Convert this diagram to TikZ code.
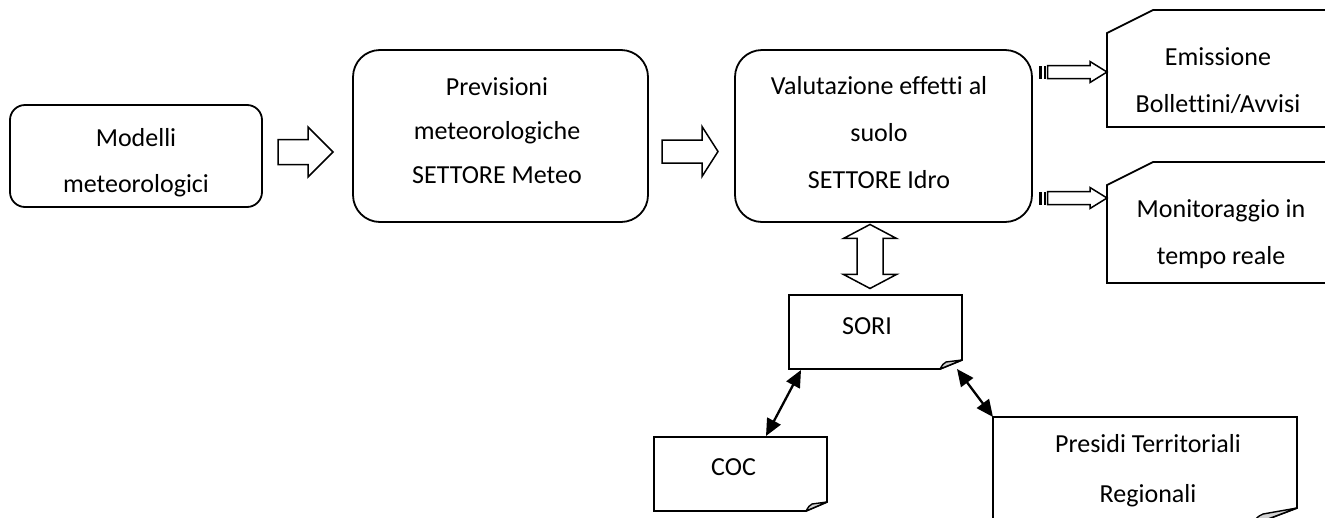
\documentclass[tikz,border=0pt]{standalone}
\usepackage{fontspec}
\setmainfont{Carlito}[Ligatures=NoCommon]
\usetikzlibrary{calc,arrows.meta}
\begin{document}
\begin{tikzpicture}[x=1pt,y=-1pt,
  rbox/.style={draw, line width=1.8pt, rounded corners=#1, inner sep=0pt},
  ghost/.style={inner sep=0pt, outer sep=0pt},
  outl/.style={draw, line width=1.8pt, line join=miter},
  txt/.style={align=center, inner sep=0pt, font=\fontsize{26}{#1}\selectfont},
  blk/.style={draw, fill=white, line width=1.5pt, line join=miter},
  stripe/.style={fill=black},
  fold/.style={draw, fill=gray!35, line width=1.4pt, line join=round},
  link/.style={line width=2.3pt, {Triangle[length=17pt,width=15pt]}-{Triangle[length=17pt,width=15pt]}}
]
\useasboundingbox (0,0) rectangle (1325,517);
\clip (0,0) rectangle (1325,517);

% rounded boxes
\node[rbox=15pt, minimum width=252pt, minimum height=102pt] (mod) at (136,156) {};
\node[txt=46] (modt) at (136,163) {Modelli\\meteorologici};

\node[rbox=27pt, minimum width=295pt, minimum height=172pt] (prev) at (500.5,136) {};
\node[txt=44] (prevt) at (497,131) {Previsioni\\meteorologiche\\SETTORE Meteo};

\node[rbox=27pt, minimum width=297pt, minimum height=172pt] (val) at (883.5,136) {};
\node[txt=47] (valt) at (879,133) {Valutazione effetti al\\suolo\\SETTORE Idro};

% cut-corner boxes
\node[ghost, minimum width=223pt, minimum height=117pt] (emi) at (1218.5,68.5) {};
\draw[outl] (emi.south west) -- ($(emi.north west)+(0,23)$) -- ($(emi.north west)+(46,0)$)
  -- (emi.north east) -- (emi.south east) -- cycle;
\node[txt=47] (emit) at (1218,81) {Emissione\\Bollettini/Avvisi};

\node[ghost, minimum width=223pt, minimum height=121pt] (mon) at (1218.5,222.5) {};
\draw[outl] (mon.south west) -- ($(mon.north west)+(0,23)$) -- ($(mon.north west)+(46,0)$)
  -- (mon.north east) -- (mon.south east) -- cycle;
\node[txt=47] (mont) at (1221,234) {Monitoraggio in\\tempo reale};

% folded-corner boxes
\node[ghost, minimum width=173pt, minimum height=74pt] (sori) at (875.5,332) {};
\draw[outl] (sori.north west) -- (sori.north east) -- ($(sori.south east)+(0,-9)$)
  -- ($(sori.south east)+(-22,0)$) -- (sori.south west) -- cycle;
\draw[fold] ($(sori.south east)+(-22,0)$) .. controls ($(sori.south east)+(-19,-5)$) .. ($(sori.south east)+(-16,-7)$)
  -- ($(sori.south east)+(0,-9)$) -- cycle;
\node[txt=30] (sorit) at (867,326.5) {SORI};

\node[ghost, minimum width=173pt, minimum height=74pt] (coc) at (740.5,474) {};
\draw[outl] (coc.north west) -- (coc.north east) -- ($(coc.south east)+(0,-9)$)
  -- ($(coc.south east)+(-21,0)$) -- (coc.south west) -- cycle;
\draw[fold] ($(coc.south east)+(-21,0)$) .. controls ($(coc.south east)+(-18,-5)$) .. ($(coc.south east)+(-15,-7)$)
  -- ($(coc.south east)+(0,-9)$) -- cycle;
\node[txt=30] (coct) at (733.5,467.5) {COC};

\node[ghost, minimum width=304pt, minimum height=108pt] (pre) at (1145,471) {};
\draw[outl] (pre.north west) -- (pre.north east) -- ($(pre.south east)+(0,-17)$)
  -- ($(pre.south east)+(-45,0)$) -- (pre.south west) -- cycle;
\draw[fold] ($(pre.south east)+(-45,0)$) .. controls ($(pre.south east)+(-40,-8)$) .. ($(pre.south east)+(-34,-11)$)
  -- ($(pre.south east)+(0,-17)$) -- cycle;
\node[txt=50] (pret) at (1148,471) {Presidi Territoriali\\Regionali};

% block arrows
\coordinate (a1) at (278,152);
\draw[blk, shift={(a1)}] (0,-12.5) -- (30,-12.5) -- (30,-25) -- (55,0) -- (30,25) -- (30,12.5) -- (0,12.5) -- cycle;
\coordinate (a2) at (662,151.5);
\draw[blk, shift={(a2)}] (0,-11.5) -- (40,-11.5) -- (40,-25) -- (56,0) -- (40,25) -- (40,11.5) -- (0,11.5) -- cycle;

% vertical double arrow between val and sori
\coordinate (dv) at ($(val.south)!0.5!(sori.north)+(-9.5,-2.5)$);
\draw[blk, shift={(dv)}] (0,-32) -- (26.5,-18) -- (13,-18) -- (13,18) -- (26.5,18) -- (0,32)
  -- (-26.5,18) -- (-13,18) -- (-13,-18) -- (-26.5,-18) -- cycle;

% striped arrows
\coordinate (s1) at ($(emi.west)+(0,3.5)$);
\coordinate (s2) at ($(mon.west)+(0,-24.5)$);
\foreach \s in {s1,s2}{
  \fill[stripe, shift={(\s)}] (-68,-6.5) rectangle (-65,6.5);
  \fill[stripe, shift={(\s)}] (-63.5,-6.5) rectangle (-61.5,6.5);
  \draw[blk, shift={(\s)}] (-59.5,-6.5) -- (-17,-6.5) -- (-17,-10.5) -- (0,0) -- (-17,10.5) -- (-17,6.5) -- (-59.5,6.5) -- cycle;
}

% links
\draw[link] ($(coc.north)+(25.5,-1)$) -- ($(sori.south)+(-74.5,1)$);
\draw[link] ($(sori.south east)+(-5,0)$) -- (pre.north west);
\end{tikzpicture}
\end{document}
